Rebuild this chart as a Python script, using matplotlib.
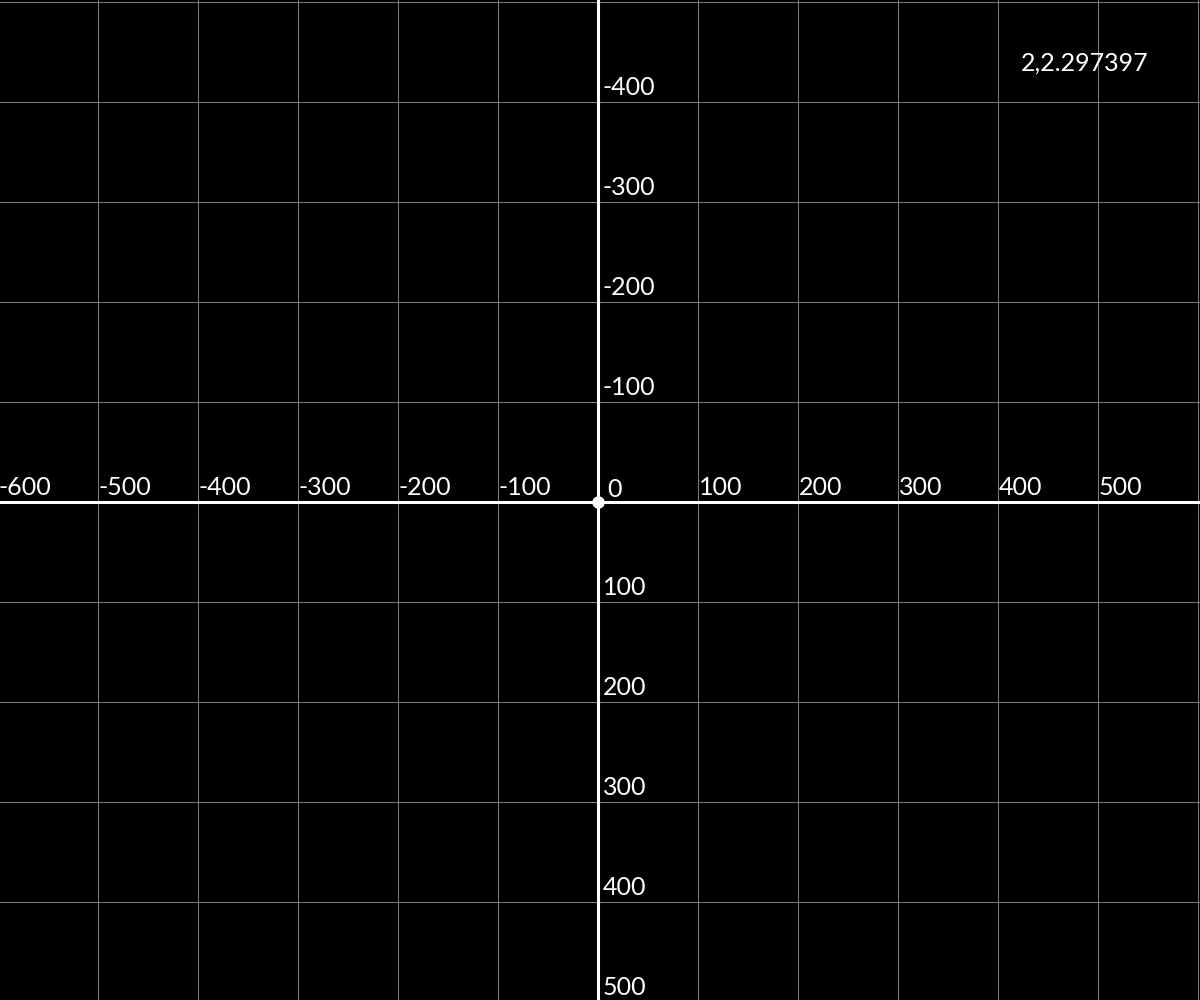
import matplotlib
matplotlib.use("Agg")
import matplotlib.pyplot as plt

# --- datos ---
x_ticks = [-600, -500, -400, -300, -200, -100, 100, 200, 300, 400, 500]
y_ticks = [-400, -300, -200, -100, 100, 200, 300, 400, 500]
grid_x = [-600, -500, -400, -300, -200, -100, 0, 100, 200, 300, 400, 500, 600]
grid_y = [-500, -400, -300, -200, -100, 0, 100, 200, 300, 400]
origin_label = "0"
readout = "2,2.297397"

plt.rcParams["font.family"] = ["Lato", "DejaVu Sans"]
FS = 18

fig = plt.figure(figsize=(12, 10), dpi=100)
fig.patch.set_facecolor("black")
ax = fig.add_axes([0, 0, 1, 1])
ax.set_facecolor("black")
ax.set_xlim(-598, 602)
ax.set_ylim(498, -502)  # eje y invertido
ax.axis("off")

for gx in grid_x:
    ax.axvline(gx, color="#7a7a7a", linewidth=0.75, zorder=1)
for gy in grid_y:
    ax.axhline(gy, color="#7a7a7a", linewidth=0.75, zorder=1)

ax.axhline(0, color="white", linewidth=2.2, zorder=2)
ax.axvline(0, color="white", linewidth=2.2, zorder=2)
ax.plot([0], [0], "o", color="white", markersize=8, zorder=3)

for xv in x_ticks:
    ax.annotate(f"{xv}", (xv, 0), xytext=(1, 7), textcoords="offset pixels",
                ha="left", va="baseline", color="white", fontsize=FS,
                annotation_clip=False)
for yv in y_ticks:
    ax.annotate(f"{yv}", (0, yv), xytext=(5, 7), textcoords="offset pixels",
                ha="left", va="baseline", color="white", fontsize=FS,
                annotation_clip=False)
ax.annotate(origin_label, (0, 0), xytext=(9, 5), textcoords="offset pixels",
            ha="left", va="baseline", color="white", fontsize=FS)

fig.text(1021 / 1200, 1 - 71 / 1000, readout, ha="left", va="baseline",
         color="white", fontsize=FS)

plt.savefig("out.png", dpi=100, facecolor="black")
plt.close()
